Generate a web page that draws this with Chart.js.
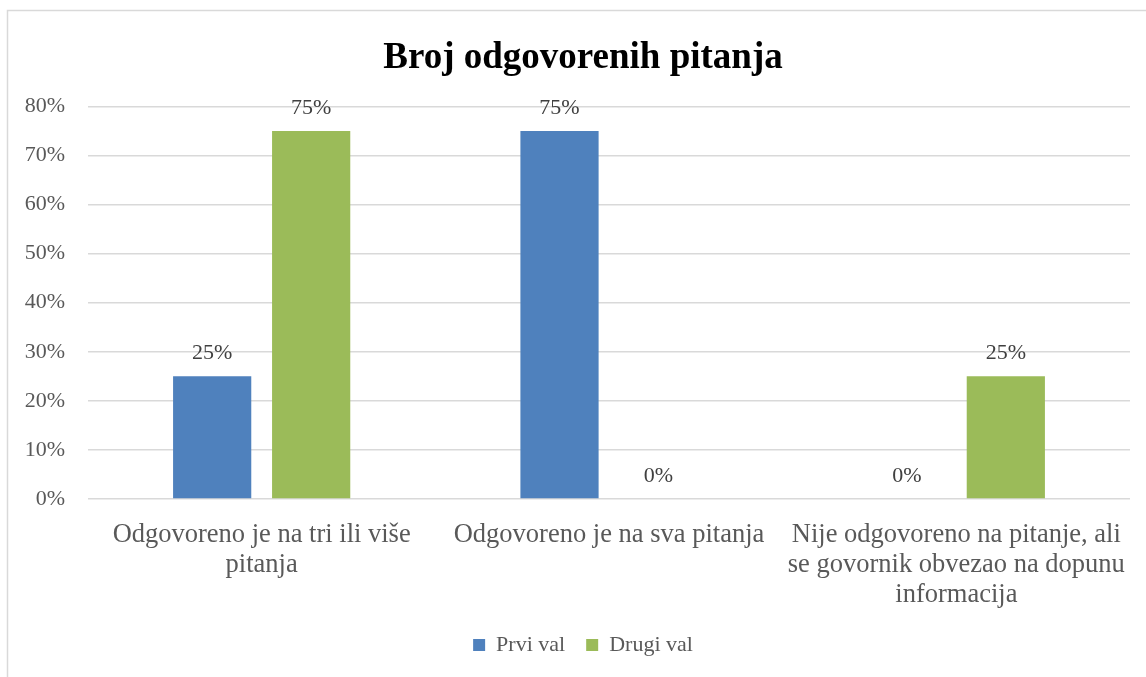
<!DOCTYPE html>
<html>
<head>
<meta charset="utf-8">
<script src="https://cdn.jsdelivr.net/npm/chart.js@4/dist/chart.umd.min.js"></script>
<style>
  html, body { margin: 0; padding: 0; background: #fff; overflow: hidden; }
  #wrap { position: relative; width: 1166px; height: 677px; }
</style>
</head>
<body>
<div id="wrap"><canvas id="chart" width="1166" height="677"></canvas></div>
<script>
const categories = [
    ["Odgovoreno je na tri ili više", "pitanja"],
    ["Odgovoreno je na sva pitanja"],
    ["Nije odgovoreno na pitanje, ali", "se govornik obvezao na dopunu", "informacija"]
]
const prviVal = [25, 75, 0]
const drugiVal = [75, 0, 25]
const seriesNames = ["Prvi val", "Drugi val"]
const yTickLabels = ["0%", "10%", "20%", "30%", "40%", "50%", "60%", "70%", "80%"]

const serif = "'Liberation Serif', 'Times New Roman', serif"

// frame around the chart, like the Office chart border
const framePlugin = {
    id: "frame",
    beforeDraw(chart) {
        const ctx = chart.ctx
        ctx.save()
        ctx.fillStyle = "#fff"
        ctx.fillRect(0, 0, chart.width, chart.height)
        ctx.strokeStyle = "#d9d9d9"
        ctx.lineWidth = 1.5
        ctx.strokeRect(7.5, 10.5, 1300, 800)
        ctx.restore()
    }
}

// values above each bar
const valueLabels = {
    id: "valueLabels",
    afterDatasetsDraw(chart) {
        const ctx = chart.ctx
        ctx.save()
        ctx.font = "22px " + serif
        ctx.fillStyle = "#404040"
        ctx.textAlign = "center"
        ctx.textBaseline = "middle"
        chart.data.datasets.forEach((ds, i) => {
            chart.getDatasetMeta(i).data.forEach((bar, j) => {
                ctx.fillText(ds.data[j] + "%", bar.x, bar.y - 23)
            })
        })
        ctx.restore()
    }
}

new Chart(document.getElementById("chart"), {
    type: "bar",
    data: {
        labels: categories,
        datasets: [{
            label: seriesNames[0],
            data: prviVal,
            backgroundColor: "#4f81bd",
            categoryPercentage: 0.57,
            barPercentage: 0.79
        }, {
            label: seriesNames[1],
            data: drugiVal,
            backgroundColor: "#9bbb59",
            categoryPercentage: 0.57,
            barPercentage: 0.79
        }]
    },
    options: {
        responsive: false,
        animation: false,
        layout: {
            padding: {left: 0, right: 0, top: 0, bottom: 11}
        },
        plugins: {
            title: {
                display: true,
                text: "Broj odgovorenih pitanja",
                color: "#000",
                font: {family: serif, size: 37, weight: "bold", lineHeight: 1.2},
                padding: {top: 36, bottom: 26}
            },
            legend: {
                position: "bottom",
                labels: {
                    color: "#595959",
                    font: {family: serif, size: 22},
                    boxWidth: 12,
                    boxHeight: 12,
                    padding: 21
                }
            },
            tooltip: {enabled: false}
        },
        scales: {
            x: {
                grid: {display: false},
                border: {display: false},
                ticks: {
                    color: "#595959",
                    font: {family: serif, size: 26.5, lineHeight: 1.13},
                    maxRotation: 0,
                    autoSkip: false,
                    padding: 13
                },
                afterFit(scale) {
                    scale.height = 114
                }
            },
            y: {
                min: 0,
                max: 80,
                grid: {color: "#d9d9d9", lineWidth: 1.5, drawTicks: false},
                border: {display: false},
                ticks: {
                    stepSize: 10,
                    color: "#595959",
                    font: {family: serif, size: 22},
                    padding: 23,
                    callback: (v, i) => yTickLabels[i]
                },
                afterFit(scale) {
                    scale.width = 88
                }
            },
            // empty spacer on the right so the plot ends where the reference does
            spacer: {
                type: "linear",
                position: "right",
                grid: {display: false},
                border: {display: false},
                ticks: {display: false},
                afterFit(scale) {
                    scale.width = 36
                }
            }
        }
    },
    plugins: [framePlugin, valueLabels]
})
</script>
</body>
</html>
